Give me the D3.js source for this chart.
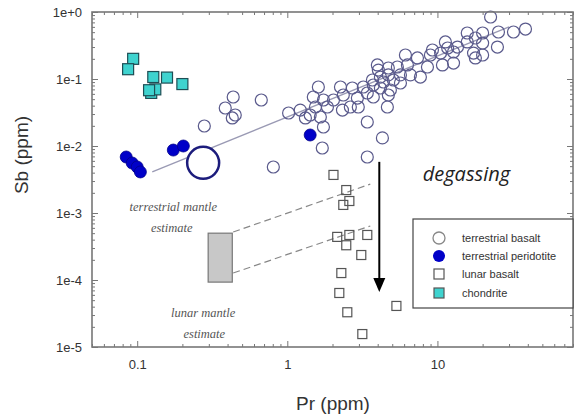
<!DOCTYPE html>
<html>
<head>
<meta charset="utf-8">
<script src="https://cdn.jsdelivr.net/npm/d3@7"></script>
<style>
  body { margin: 0; background: #fff; }
  svg { font-family: "Liberation Sans", Arial, sans-serif; }
</style>
</head>
<body>
<svg id="chart" width="582" height="420"></svg>
<script>
// values, [Pr, Sb] in ppm
const terrestrialBasalt = [
  [0.28,0.0199],[0.386,0.0369],[0.436,0.0539],[0.45,0.029],[0.43,0.0262],[0.671,0.0486],[1.02,0.0311],[0.807,0.00486],
  [22.6,0.842],[38.6,0.557],[32.1,0.503],[25.5,0.503],[20.0,0.486],[15.8,0.486],[17.9,0.409],[25.1,0.30],[20.0,0.344],
  [15.8,0.357],[13.6,0.30],[11.3,0.357],[11.7,0.29],[9.26,0.271],[8.98,0.228],[10.5,0.244],[12.8,0.253],[17.4,0.244],
  [20.0,0.228],[17.9,0.206],[12.8,0.173],[10.8,0.162],[8.58,0.151],[7.36,0.206],[6.12,0.228],[6.31,0.162],[5.41,0.151],
  [4.71,0.146],[3.98,0.162],[4.04,0.136],[4.71,0.115],[5.67,0.115],[6.61,0.115],[7.70,0.107],[4.17,0.107],[3.69,0.0966],
  [3.21,0.076],[3.74,0.0813],[4.37,0.0902],[5.09,0.0966],[5.67,0.0871],[4.86,0.0685],[4.17,0.0734],[3.74,0.0539],
  [4.71,0.0577],[4.64,0.0382],[3.41,0.0618],[2.93,0.052],[2.71,0.0734],[2.26,0.076],[2.36,0.0577],[2.03,0.0486],
  [2.33,0.0344],[2.63,0.0382],[2.97,0.0382],[1.61,0.076],[1.49,0.0539],[1.74,0.0486],[1.54,0.0382],[1.42,0.029],
  [1.66,0.0271],[1.74,0.0192],[1.71,0.00933],[3.41,0.0228],[4.30,0.0132],[3.41,0.00685],[1.85,0.0382],[1.22,0.0344],
  [1.32,0.0262]
];
const terrestrialPeridotite = [
  [0.0845,0.00685],[0.0926,0.00557],[0.1,0.00486],[0.105,0.0041],[0.174,0.0087],[0.203,0.0100],[1.42,0.0146]
];
const lunarBasalt = [
  [2.03,3.7e-3],[2.47,2.2e-3],[2.36,1.32e-3],[2.59,1.51e-3],[2.15,4.4e-4],[2.47,3.3e-4],[2.59,4.7e-4],
  [3.41,4.7e-4],[3.11,2.36e-4],[2.29,1.27e-4],[2.22,6.4e-5],[2.51,3.3e-5],[5.33,4.1e-5],[3.16,1.56e-5]
];
const chondrite = [
  [0.094,0.2],[0.087,0.14],[0.128,0.107],[0.158,0.105],[0.2,0.084],[0.124,0.062],[0.132,0.07],[0.12,0.068]
];
const terrestrialMantle = [0.275, 0.0056];
const trendLine = [[0.126,0.0041],[30,0.6]];
const lunarMantleBox = [[0.297,5.0e-4],[0.43,9.3e-5]];
const dashUpper = [[0.436,5.2e-4],[3.57,2.7e-3]];
const dashLower = [[0.436,1.27e-4],[3.57,6.4e-4]];
const degassingArrow = [[4.1,5.8e-3],[4.1,6.6e-5]];

const xTicks = [0.1, 1, 10];
const xTickLabels = ["0.1", "1", "10"];
const yTicks = [1, 1e-1, 1e-2, 1e-3, 1e-4, 1e-5];
const yTickLabels = ["1e+0", "1e-1", "1e-2", "1e-3", "1e-4", "1e-5"];
const legendLabels = ["terrestrial basalt", "terrestrial peridotite", "lunar basalt", "chondrite"];

const width = 582;
const height = 420;
const padL = 92, padR = 573, padT = 12, padB = 347;

const svg = d3.select('#chart');
const x = d3.scaleLog().domain([0.05, 80]).range([padL, padR]);
const y = d3.scaleLog().domain([1e-5, 1]).range([padB, padT]);

const plot = svg.append('g');

// trend line through terrestrial samples
plot.append('line')
  .attr('x1', x(trendLine[0][0])).attr('y1', y(trendLine[0][1]))
  .attr('x2', x(trendLine[1][0])).attr('y2', y(trendLine[1][1]))
  .attr('stroke', '#9a9ab4').attr('stroke-width', 1.3);

// dashed lines from lunar mantle estimate
[dashUpper, dashLower].forEach(seg => {
  plot.append('line')
    .attr('x1', x(seg[0][0])).attr('y1', y(seg[0][1]))
    .attr('x2', x(seg[1][0])).attr('y2', y(seg[1][1]))
    .attr('stroke', '#888').attr('stroke-width', 1.2)
    .attr('stroke-dasharray', '7,4');
});

plot.append('rect')
  .attr('x', x(lunarMantleBox[0][0]))
  .attr('y', y(lunarMantleBox[0][1]))
  .attr('width', x(lunarMantleBox[1][0]) - x(lunarMantleBox[0][0]))
  .attr('height', y(lunarMantleBox[1][1]) - y(lunarMantleBox[0][1]))
  .attr('fill', '#c8c8c8').attr('stroke', '#777').attr('stroke-width', 1.2);

plot.append('circle')
  .attr('cx', x(terrestrialMantle[0])).attr('cy', y(terrestrialMantle[1]))
  .attr('r', 16)
  .attr('fill', '#fff').attr('stroke', '#1c1c7c').attr('stroke-width', 2.5);

plot.selectAll('.basalt').data(terrestrialBasalt).join('circle')
  .attr('class', 'basalt')
  .attr('cx', d => x(d[0])).attr('cy', d => y(d[1]))
  .attr('r', 6)
  .attr('fill', 'none').attr('stroke', '#5a5a8c').attr('stroke-width', 1.2);

plot.selectAll('.lunar').data(lunarBasalt).join('rect')
  .attr('class', 'lunar')
  .attr('x', d => x(d[0]) - 4.5).attr('y', d => y(d[1]) - 4.5)
  .attr('width', 9).attr('height', 9)
  .attr('fill', 'none').attr('stroke', '#555').attr('stroke-width', 1.2);

plot.selectAll('.perid').data(terrestrialPeridotite).join('circle')
  .attr('class', 'perid')
  .attr('cx', d => x(d[0])).attr('cy', d => y(d[1]))
  .attr('r', 6)
  .attr('fill', '#0000c8').attr('stroke', '#00008a').attr('stroke-width', 0.8);

plot.selectAll('.chond').data(chondrite).join('rect')
  .attr('class', 'chond')
  .attr('x', d => x(d[0]) - 5.5).attr('y', d => y(d[1]) - 5.5)
  .attr('width', 11).attr('height', 11)
  .attr('fill', '#3fd3cf').attr('stroke', '#1e4e55').attr('stroke-width', 1.2);

// degassing arrow
const ax = x(degassingArrow[0][0]);
const ay0 = y(degassingArrow[0][1]);
const ay1 = y(degassingArrow[1][1]);
plot.append('line')
  .attr('x1', ax).attr('y1', ay0).attr('x2', ax).attr('y2', ay1 - 10)
  .attr('stroke', '#000').attr('stroke-width', 2);
plot.append('path')
  .attr('d', `M${ax - 6},${ay1 - 14}L${ax + 6},${ay1 - 14}L${ax},${ay1}Z`)
  .attr('fill', '#000');

// annotations
plot.append('text')
  .attr('x', x(15.6)).attr('y', y(3.0e-3))
  .attr('text-anchor', 'middle')
  .style('font-family', '"Open Sans", "Noto Sans", sans-serif')
  .style('font-style', 'italic').style('font-weight', '400').style('font-size', '20px').attr('fill', '#222')
  .text('degassing');

const serifNote = (txt, px, py) => plot.append('text')
  .attr('x', x(px)).attr('y', y(py))
  .attr('text-anchor', 'middle')
  .style('font-family', '"Liberation Serif", "DejaVu Serif", serif')
  .style('font-style', 'italic').style('font-size', '12.5px').attr('fill', '#555')
  .text(txt);
serifNote('terrestrial mantle', 0.174, 1.07e-3);
serifNote('estimate', 0.17, 5.2e-4);
serifNote('lunar mantle', 0.275, 2.8e-5);
serifNote('estimate', 0.28, 1.36e-5);

// axes with inward ticks on all sides
const minor = [];
[0.01, 0.1, 1, 10].forEach(base => {
  for (let k = 2; k <= 9; k++) {
    const v = base * k;
    if (v >= 0.05 && v <= 80) minor.push(v);
  }
});
const yMinor = [];
[1e-5, 1e-4, 1e-3, 1e-2, 1e-1].forEach(base => {
  for (let k = 2; k <= 9; k++) yMinor.push(base * k);
});

const tickStyle = g => {
  g.select('.domain').remove();
  g.selectAll('line').attr('stroke', '#777');
  g.selectAll('text').attr('fill', '#333').style('font-size', '13px');
};

svg.append('g').attr('transform', `translate(0,${padB})`)
  .call(d3.axisBottom(x).tickValues(xTicks).tickFormat((d, i) => xTickLabels[i]).tickSizeInner(-6).tickPadding(13))
  .call(tickStyle);
svg.append('g').attr('transform', `translate(0,${padB})`)
  .call(d3.axisBottom(x).tickValues(minor).tickFormat('').tickSizeInner(-3))
  .call(tickStyle);
svg.append('g').attr('transform', `translate(0,${padT})`)
  .call(d3.axisTop(x).tickValues(xTicks).tickFormat('').tickSizeInner(-6))
  .call(tickStyle);
svg.append('g').attr('transform', `translate(0,${padT})`)
  .call(d3.axisTop(x).tickValues(minor).tickFormat('').tickSizeInner(-3))
  .call(tickStyle);

svg.append('g').attr('transform', `translate(${padL},0)`)
  .call(d3.axisLeft(y).tickValues(yTicks).tickFormat((d, i) => yTickLabels[i]).tickSizeInner(-6).tickPadding(10))
  .call(tickStyle);
svg.append('g').attr('transform', `translate(${padL},0)`)
  .call(d3.axisLeft(y).tickValues(yMinor).tickFormat('').tickSizeInner(-3))
  .call(tickStyle);
svg.append('g').attr('transform', `translate(${padR},0)`)
  .call(d3.axisRight(y).tickValues(yTicks).tickFormat('').tickSizeInner(-6))
  .call(tickStyle);
svg.append('g').attr('transform', `translate(${padR},0)`)
  .call(d3.axisRight(y).tickValues(yMinor).tickFormat('').tickSizeInner(-3))
  .call(tickStyle);

svg.append('rect')
  .attr('x', padL).attr('y', padT)
  .attr('width', padR - padL).attr('height', padB - padT)
  .attr('fill', 'none').attr('stroke', '#777').attr('stroke-width', 1.6);

// axis titles
svg.append('text')
  .attr('x', 333).attr('y', 410)
  .attr('text-anchor', 'middle')
  .style('font-size', '19px').attr('fill', '#333')
  .text('Pr (ppm)');
svg.append('text')
  .attr('transform', 'translate(28,155) rotate(-90)')
  .attr('text-anchor', 'middle')
  .style('font-size', '19px').attr('fill', '#333')
  .text('Sb (ppm)');

// legend
const legend = svg.append('g').attr('transform', 'translate(413,219)');
legend.append('rect')
  .attr('width', 160).attr('height', 89)
  .attr('fill', '#fff').attr('stroke', '#444').attr('stroke-width', 1.2);
const rowY = [19, 37, 55, 74];
legend.append('circle').attr('cx', 26).attr('cy', rowY[0]).attr('r', 6)
  .attr('fill', '#fff').attr('stroke', '#888').attr('stroke-width', 1.3);
legend.append('circle').attr('cx', 26).attr('cy', rowY[1]).attr('r', 6)
  .attr('fill', '#0000c8');
legend.append('rect').attr('x', 21).attr('y', rowY[2] - 5).attr('width', 10).attr('height', 10)
  .attr('fill', '#fff').attr('stroke', '#555').attr('stroke-width', 1.2);
legend.append('rect').attr('x', 21).attr('y', rowY[3] - 5).attr('width', 10).attr('height', 10)
  .attr('fill', '#3fd3cf').attr('stroke', '#555').attr('stroke-width', 1.2);
legend.selectAll('.lab').data(legendLabels).join('text')
  .attr('class', 'lab')
  .attr('x', 49).attr('y', (d, i) => rowY[i] + 4)
  .style('font-size', '11px').attr('fill', '#333')
  .text(d => d);
</script>
</body>
</html>
